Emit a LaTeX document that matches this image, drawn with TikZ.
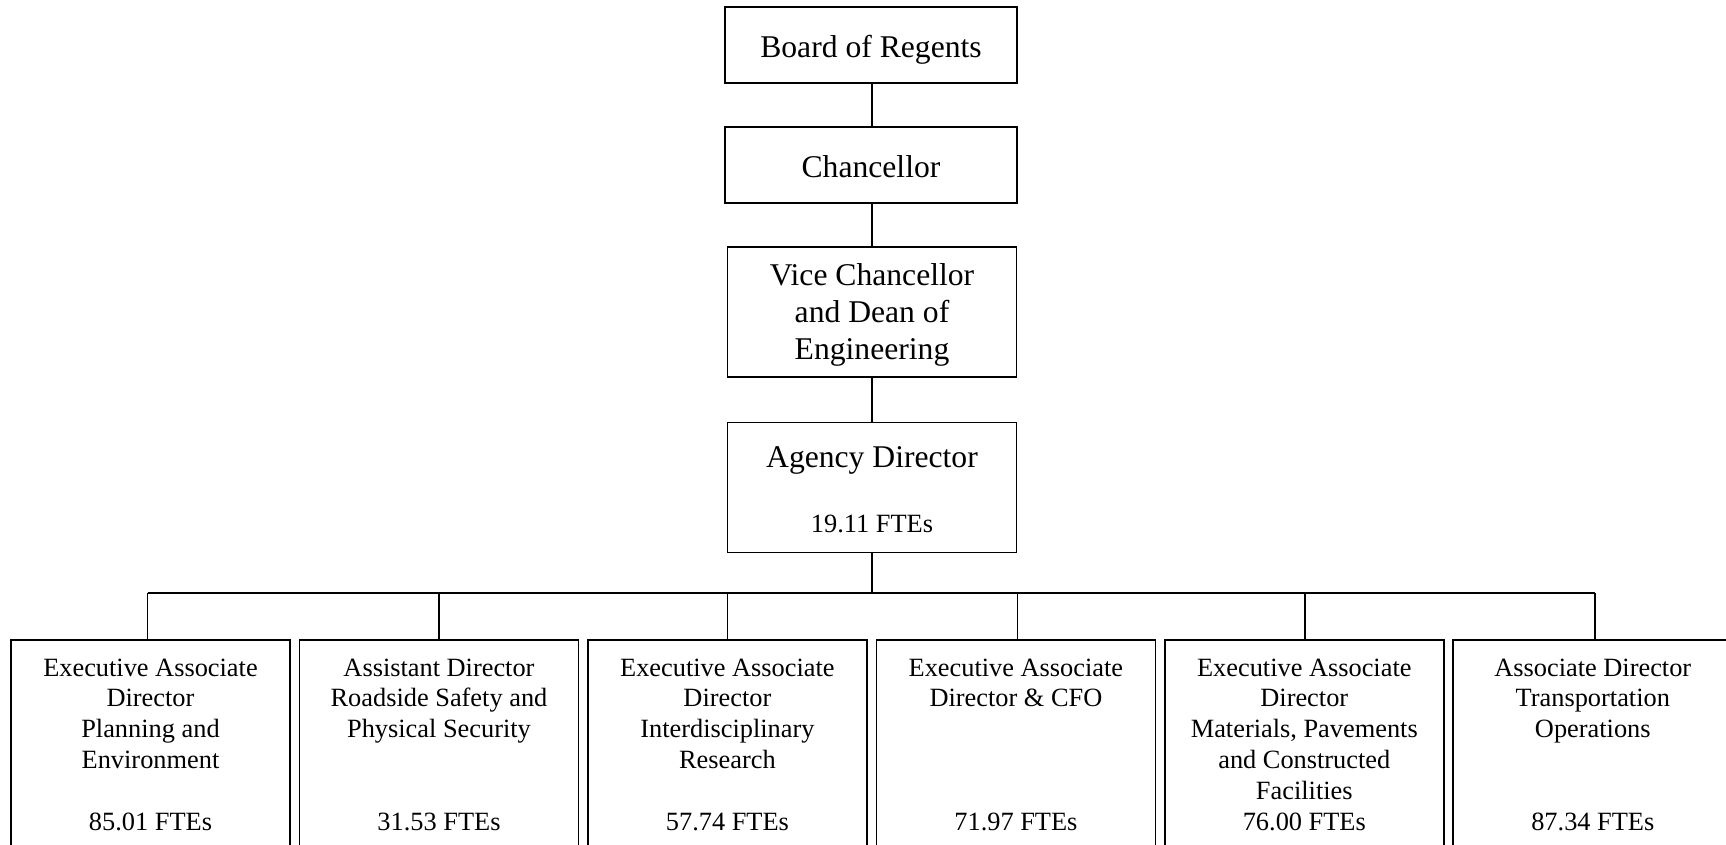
\documentclass[tikz,border=0pt]{standalone}
\usepackage{fontspec}
\setmainfont{Liberation Serif}

\begin{document}
\begin{tikzpicture}[
     line width=1pt,
     head/.style={draw,anchor=north,inner xsep=0pt,inner ysep=0.3cm,
       align=flush center,font=\fontsize{18}{20.9}\selectfont},
     dept/.style={draw,anchor=north,inner xsep=0.19cm,inner ysep=0.37cm,
       text width=5.2cm,align=flush center,text depth=3.6cm,
       font=\fontsize{15}{17.55}\selectfont}
   ]
   \useasboundingbox (0,0) rectangle (34.52,16.9);
   % Chain of command.
   \node[head,text width=5.83cm,text height=0.71cm,text depth=0.22cm] (board) at (17.42,16.78)
     {Board of Regents};
   \node[head,text width=5.83cm,text height=0.71cm,text depth=0.22cm] (chancellor) at (17.42,14.38)
     {Chancellor};
   \node[head,text width=5.78cm,text height=0.48cm,text depth=1.52cm] (vice) at (17.44,11.98)
     {Vice Chancellor\\and Dean of\\Engineering};
   \node[head,text width=5.78cm,text height=0.6cm,text depth=1.4cm] (agency) at (17.44,8.466)
     {Agency Director\\[16pt]{\fontsize{15}{17.55}\selectfont 19.11 FTEs}};
   \draw (vice.north |- board.south) -- (vice.north |- chancellor.north);
   \draw (vice.north |- chancellor.south) -- (vice.north);
   \draw (vice.south) -- (agency.north);
   % Divisions.
   \node[dept] (d1) at (3.01,4.114)
     {Executive Associate\\Director\\Planning and\\Environment\\\mbox{}\\85.01 FTEs};
   \node[dept] (d2) at (8.78,4.114)
     {Assistant Director\\Roadside Safety and\\Physical Security\\\mbox{}\\\mbox{}\\31.53 FTEs};
   \node[dept] (d3) at (14.548,4.114)
     {Executive Associate\\Director\\Interdisciplinary\\Research\\\mbox{}\\57.74 FTEs};
   \node[dept] (d4) at (20.318,4.114)
     {Executive Associate\\Director \& CFO\\\mbox{}\\\mbox{}\\\mbox{}\\71.97 FTEs};
   \node[dept] (d5) at (26.086,4.114)
     {Executive Associate\\Director\\Materials, Pavements\\and Constructed\\Facilities\\76.00 FTEs};
   \node[dept] (d6) at (31.856,4.114)
     {Associate Director\\Transportation\\Operations\\\mbox{}\\\mbox{}\\87.34 FTEs};
   % Bus.
   \coordinate (bus) at (0,5.034);
   \draw (agency.south) -- (agency.south |- bus);
   \draw ([xshift=-0.06cm]d1.north |- bus) -- ([xshift=0.05cm]d6.north |- bus);
   \foreach \d/\s in {d1/-0.06,d2/0,d3/0,d4/0.03,d5/0.02,d6/0.05}
     \draw ([xshift=\s cm]\d.north) -- ([xshift=\s cm]\d.north |- bus);
 \end{tikzpicture}
\end{document}
